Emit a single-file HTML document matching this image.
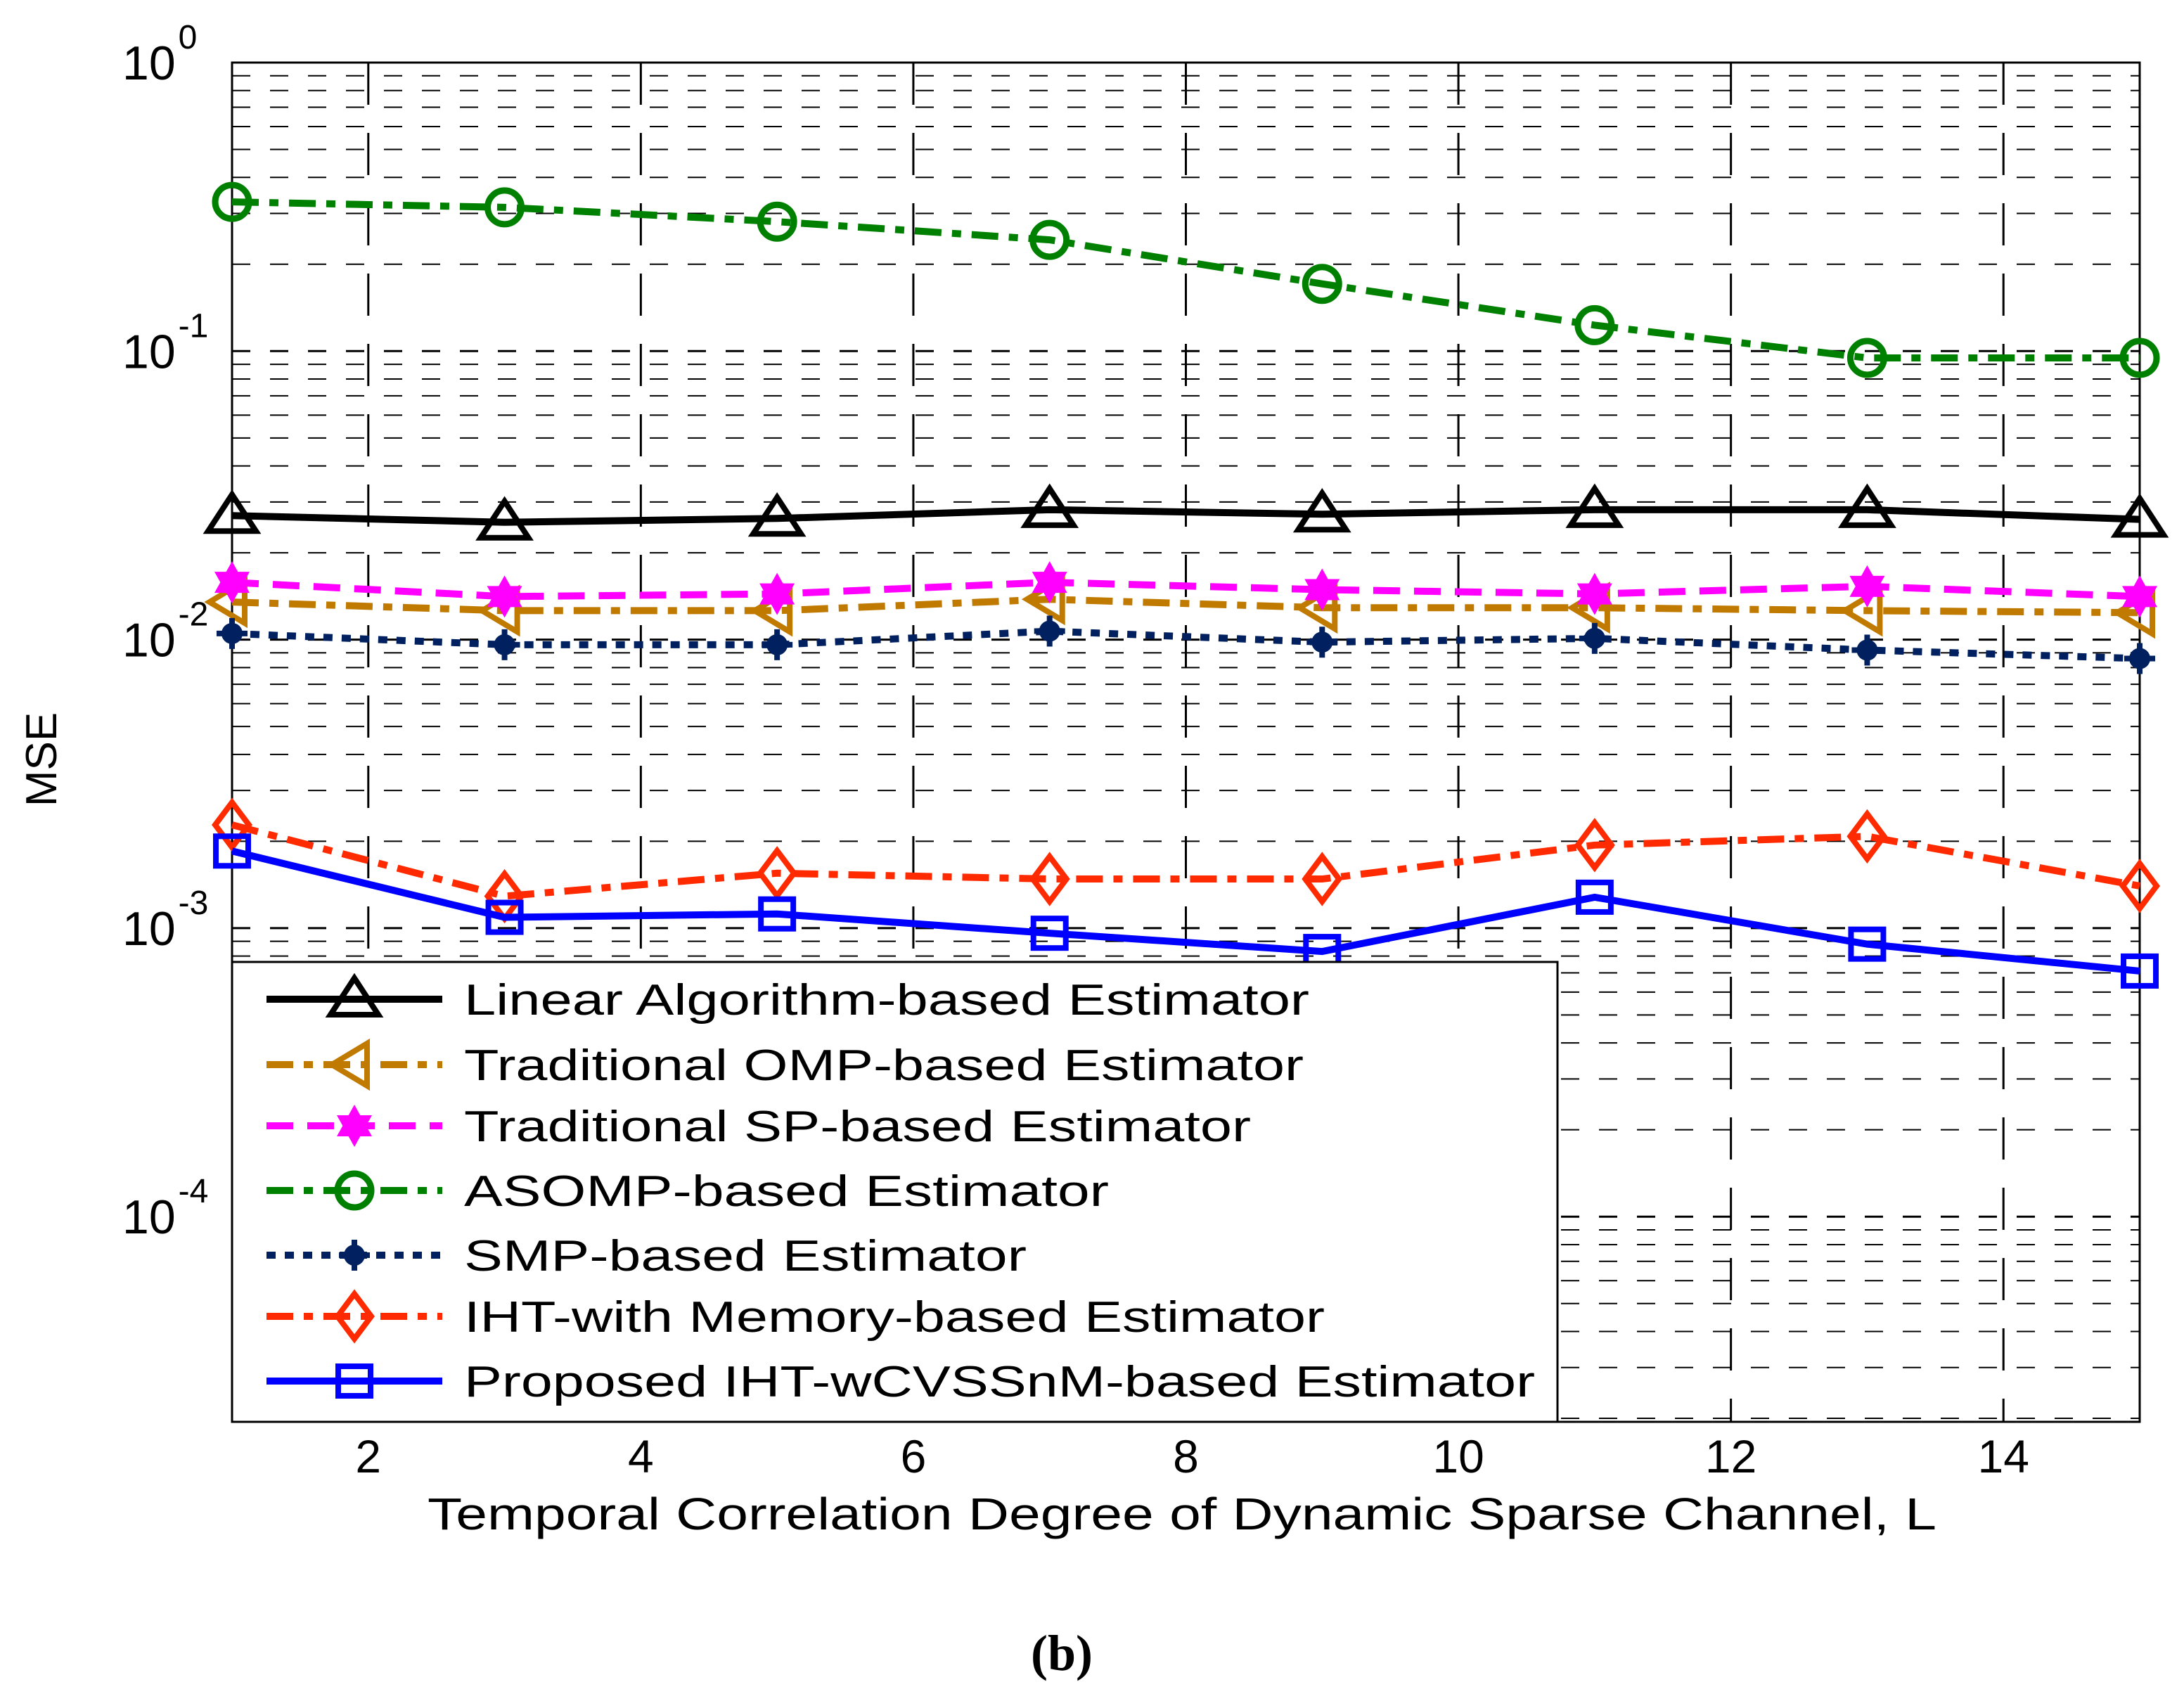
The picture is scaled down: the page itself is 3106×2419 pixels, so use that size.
<!DOCTYPE html>
<html><head><meta charset="utf-8"><style>
html,body{margin:0;padding:0;background:#fff;}
svg{display:block;font-family:"Liberation Sans",Arial,sans-serif;}
</style></head><body>
<svg id="chart" width="3106" height="2419" viewBox="0 0 3106 2419" xmlns="http://www.w3.org/2000/svg"></svg>
<script>
const xValues = [1,3,5,7,9,11,13,15];
const linearVals = [0.0269,0.0255,0.0263,0.0282,0.0272,0.0282,0.0282,0.0261];
const ompVals = [0.0135,0.0126,0.0126,0.0138,0.0129,0.0129,0.0126,0.0124];
const spVals = [0.0158,0.0141,0.0144,0.0158,0.0149,0.0144,0.0153,0.0141];
const asompVals = [0.329,0.315,0.281,0.243,0.171,0.123,0.0947,0.0947];
const smpVals = [0.0105,0.0096,0.0096,0.0107,0.0098,0.0101,0.0092,0.0086];
const ihtVals = [0.00228,0.00129,0.00155,0.00148,0.00148,0.00194,0.00208,0.00140];
const propVals = [0.00185,0.00109,0.00112,0.00096,0.00083,0.00128,0.00088,0.00071];
const xTicks = [2,4,6,8,10,12,14];
const yTickExps = [0,-1,-2,-3,-4];
const seriesNames = ["Linear Algorithm-based Estimator","Traditional OMP-based Estimator","Traditional SP-based Estimator","ASOMP-based Estimator","SMP-based Estimator","IHT-with Memory-based Estimator","Proposed IHT-wCVSSnM-based Estimator"];

const NS="http://www.w3.org/2000/svg";
const svg=document.getElementById('chart');
const L=330,R=3043,T=89,B=2022;
const xMin=1,xMax=15,logTop=0,decPx=410.3;
function xs(v){return L+(v-xMin)/(xMax-xMin)*(R-L);}
function ys(v){return T+(logTop-Math.log10(v))*decPx;}
function mk(tag,attrs,parent){const e=document.createElementNS(NS,tag);for(const k in attrs)e.setAttribute(k,attrs[k]);(parent||svg).appendChild(e);return e;}

const grid=mk('g',{});


for(let d=0;d>=-5;d--){for(let m=1;m<=9;m++){const v=m*Math.pow(10,d);const y=ys(v);if(y<T-1||y>B+1)continue;
 const ln=mk('line',{x1:L,x2:R,y1:y,y2:y,stroke:'#000','stroke-width':m===1?3:2,'stroke-dasharray':'26,28'},grid);
 
 }}
xTicks.forEach(t=>{const x=xs(t);
 const ln=mk('line',{x1:x,x2:x,y1:T,y2:B,stroke:'#000','stroke-width':3,'stroke-dasharray':'60,40'},grid);
 
 
 const lb=mk('text',{x:x,y:2094,'font-size':66,'text-anchor':'middle'});lb.textContent=t;
 
 });
yTickExps.forEach(e=>{const y=ys(Math.pow(10,e));
 const t=mk('text',{x:174,y:y+24,'font-size':68,'text-anchor':'start'});
 
 
 t.appendChild(document.createTextNode('10'));
 const s=document.createElementNS(NS,'tspan');s.setAttribute('dx','4');s.setAttribute('dy','-44');s.setAttribute('font-size','48');s.textContent=String(e);t.appendChild(s);});

const box=mk('rect',{x:L,y:T,width:R-L,height:B-T,fill:'none',stroke:'#000','stroke-width':3});



function marker(type,x,y,color,g){
 const sw=8;
 if(type==='tri'){mk('polygon',{points:`${x},${y-30} ${x-34},${y+22} ${x+34},${y+22}`,fill:'none',stroke:color,'stroke-width':sw},g);}
 else if(type==='ltri'){mk('polygon',{points:`${x-32},${y} ${x+18},${y-30} ${x+18},${y+30}`,fill:'none',stroke:color,'stroke-width':sw},g);}
 else if(type==='hex'){mk('polygon',{points:`${x},${y-30} ${x+25},${y+15} ${x-25},${y+15}`,fill:color},g);mk('polygon',{points:`${x},${y+30} ${x+25},${y-15} ${x-25},${y-15}`,fill:color},g);}
 else if(type==='circ'){mk('circle',{cx:x,cy:y,r:24,fill:'none',stroke:color,'stroke-width':9},g);}
 else if(type==='dot'){mk('circle',{cx:x,cy:y,r:15,fill:color},g);mk('line',{x1:x,x2:x,y1:y-22,y2:y+22,stroke:color,'stroke-width':8},g);mk('line',{x1:x-22,x2:x+22,y1:y,y2:y,stroke:color,'stroke-width':8},g);}
 else if(type==='dia'){mk('polygon',{points:`${x},${y-32} ${x+24},${y} ${x},${y+32} ${x-24},${y}`,fill:'none',stroke:color,'stroke-width':sw},g);}
 else if(type==='sq'){mk('rect',{x:x-23,y:y-21,width:46,height:42,fill:'none',stroke:color,'stroke-width':8},g);}
}
const series=[
 {vals:linearVals,color:'#000000',dash:'',m:'tri',name:'series-linear'},
 {vals:ompVals,color:'#c07a00',dash:'38,15,13,15',m:'ltri',name:'series-omp'},
 {vals:spVals,color:'#ff00ff',dash:'38,20',m:'hex',name:'series-sp'},
 {vals:asompVals,color:'#008000',dash:'38,15,13,15',m:'circ',name:'series-asomp'},
 {vals:smpVals,color:'#002060',dash:'13,13',m:'dot',name:'series-smp'},
 {vals:ihtVals,color:'#ff2a00',dash:'38,15,13,15',m:'dia',name:'series-iht'},
 {vals:propVals,color:'#0000ff',dash:'',m:'sq',name:'series-proposed'}
];
series.forEach(s=>{
 const g=mk('g',{});
 
 
 const pts=xValues.map((x,i)=>xs(x)+','+ys(s.vals[i])).join(' ');
 const pl=mk('polyline',{points:pts,fill:'none',stroke:s.color,'stroke-width':10,'stroke-dasharray':s.dash},g);
 
 
 xValues.forEach((x,i)=>marker(s.m,xs(x),ys(s.vals[i]),s.color,g));
});

const lg=mk('g',{});


mk('rect',{x:L,y:1368,width:2215-L,height:B-1368,fill:'#fff',stroke:'#000','stroke-width':3},lg);
const rowY=[1421,1514,1601,1693,1785,1872,1964];
const textW=[1202,1194,1119,917,800,1224,1523];
series.forEach((s,i)=>{
 const y=rowY[i];
 const e=mk('g',{},lg);
 
 
 mk('line',{x1:379,x2:629,y1:y,y2:y,stroke:s.color,'stroke-width':10,'stroke-dasharray':s.dash},e);
 marker(s.m,504,y,s.color,e);
 const t=mk('text',{x:660,y:y+22,'font-size':62,textLength:textW[i],lengthAdjust:'spacingAndGlyphs'},e);t.textContent=seriesNames[i];
});

const xt=mk('text',{x:608,y:2175,'font-size':64,textLength:2146,lengthAdjust:'spacingAndGlyphs'});xt.textContent='Temporal Correlation Degree of Dynamic Sparse Channel, L';


const yt=mk('text',{x:0,y:0,'font-size':62,'text-anchor':'middle',transform:'translate(80,1080) rotate(-90)'});yt.textContent='MSE';


const cap=mk('text',{x:1510,y:2375,'font-size':72,'text-anchor':'middle','font-family':'Liberation Serif, serif','font-weight':'bold'});cap.textContent='(b)';


</script>
</body></html>
